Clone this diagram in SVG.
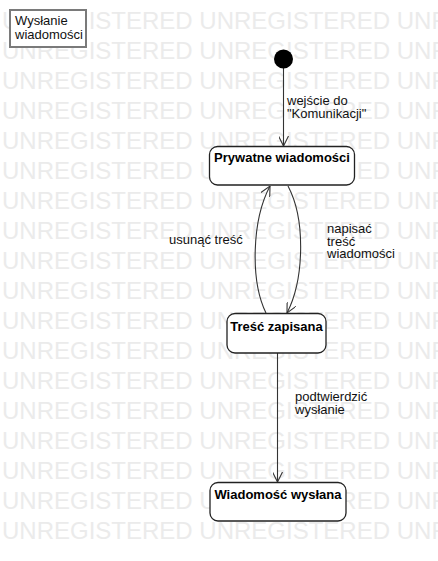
<svg xmlns="http://www.w3.org/2000/svg" width="438" height="561" viewBox="0 0 438 561">
<style>
.wm{font-family:"Liberation Sans",Arial,sans-serif;font-size:24px;fill:#ebebeb}
.lbl{font-family:"Liberation Sans",Arial,sans-serif;font-size:13px;fill:#111}
.nt{font-family:"Liberation Sans",Arial,sans-serif;font-size:13px;font-weight:bold;fill:#000;text-anchor:middle}
.state{fill:#fff;stroke:#222;stroke-width:1.3}
.conn{fill:none;stroke:#333;stroke-width:1.1}
</style>
<defs>
<marker id="arr" viewBox="0 0 10 10" refX="10" refY="5" markerWidth="10" markerHeight="10" orient="auto" markerUnits="userSpaceOnUse">
<path d="M0,0 L10,5 L0,10" fill="none" stroke="#333" stroke-width="1.1"/>
</marker>
</defs>
<rect width="438" height="561" fill="#fff"/>
<g id="watermark">
<text class="wm" x="2" y="28.5">UNREGISTERED UNREGISTERED UNREGISTERED</text>
<text class="wm" x="2" y="58.5">UNREGISTERED UNREGISTERED UNREGISTERED</text>
<text class="wm" x="2" y="88.5">UNREGISTERED UNREGISTERED UNREGISTERED</text>
<text class="wm" x="2" y="118.5">UNREGISTERED UNREGISTERED UNREGISTERED</text>
<text class="wm" x="2" y="148.5">UNREGISTERED UNREGISTERED UNREGISTERED</text>
<text class="wm" x="2" y="178.5">UNREGISTERED UNREGISTERED UNREGISTERED</text>
<text class="wm" x="2" y="208.5">UNREGISTERED UNREGISTERED UNREGISTERED</text>
<text class="wm" x="2" y="238.5">UNREGISTERED UNREGISTERED UNREGISTERED</text>
<text class="wm" x="2" y="268.5">UNREGISTERED UNREGISTERED UNREGISTERED</text>
<text class="wm" x="2" y="298.5">UNREGISTERED UNREGISTERED UNREGISTERED</text>
<text class="wm" x="2" y="328.5">UNREGISTERED UNREGISTERED UNREGISTERED</text>
<text class="wm" x="2" y="358.5">UNREGISTERED UNREGISTERED UNREGISTERED</text>
<text class="wm" x="2" y="388.5">UNREGISTERED UNREGISTERED UNREGISTERED</text>
<text class="wm" x="2" y="418.5">UNREGISTERED UNREGISTERED UNREGISTERED</text>
<text class="wm" x="2" y="448.5">UNREGISTERED UNREGISTERED UNREGISTERED</text>
<text class="wm" x="2" y="478.5">UNREGISTERED UNREGISTERED UNREGISTERED</text>
<text class="wm" x="2" y="508.5">UNREGISTERED UNREGISTERED UNREGISTERED</text>
<text class="wm" x="2" y="538.5">UNREGISTERED UNREGISTERED UNREGISTERED</text>
</g>
<g id="title">
<rect x="10" y="10" width="76" height="37" fill="#fff" stroke="#7a7a7a" stroke-width="2"/>
<text class="lbl" x="15" y="25">Wysłanie</text>
<text class="lbl" x="15" y="38.5">wiadomości</text>
</g>
<g id="connectors">
<path class="conn" d="M283.5 68 L283.5 146" marker-end="url(#arr)"/>
<path class="conn" d="M288 186 C306 220 304 280 287 313" marker-end="url(#arr)"/>
<path class="conn" d="M266 313 C250 280 252 220 270 186" marker-end="url(#arr)"/>
<path class="conn" d="M277.5 353 L277.5 482" marker-end="url(#arr)"/>
<text class="lbl" x="287" y="105">wejście do</text>
<text class="lbl" x="287" y="118">"Komunikacji"</text>
<text class="lbl" x="327" y="233">napisać</text>
<text class="lbl" x="327" y="245.5">treść</text>
<text class="lbl" x="327" y="258">wiadomości</text>
<text class="lbl" x="169" y="244">usunąć treść</text>
<text class="lbl" x="295" y="401">podtwierdzić</text>
<text class="lbl" x="295" y="413.5">wysłanie</text>
</g>
<g id="initial">
<circle cx="283.5" cy="59" r="9.5" fill="#000"/>
</g>
<g id="prywatne">
<rect class="state" x="209.5" y="146.5" width="145" height="38.5" rx="8"/>
<text class="nt" x="282" y="162">Prywatne wiadomości</text>
</g>
<g id="tresc">
<rect class="state" x="227" y="313.5" width="99" height="39.5" rx="8"/>
<text class="nt" x="276.5" y="331">Treść zapisana</text>
</g>
<g id="wyslana">
<rect class="state" x="210" y="482.5" width="136" height="38.5" rx="8"/>
<text class="nt" x="278" y="499">Wiadomość wysłana</text>
</g>
</svg>
